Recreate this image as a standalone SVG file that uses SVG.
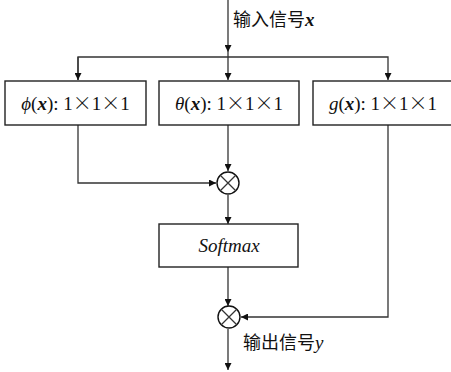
<svg xmlns="http://www.w3.org/2000/svg" width="451" height="372" viewBox="0 0 451 372">
<style>
.box{fill:#fff;stroke:#222;stroke-width:1.4}
.ln{fill:none;stroke:#333;stroke-width:1.3}
.t{font-family:'Liberation Serif','Times New Roman',serif;font-size:19px;fill:#111}
.m{font-family:'Noto Sans CJK SC',sans-serif;font-weight:300}
.c{font-family:'Noto Sans CJK SC',sans-serif;font-size:18px;fill:#111}
.v{font-family:'Liberation Serif',serif;font-style:italic;font-size:19px}
.op{fill:#fff;stroke:#111;stroke-width:1.4}
</style>
<defs>
<marker id="ah" viewBox="0 0 10 10" refX="10" refY="5" markerWidth="7" markerHeight="7" markerUnits="userSpaceOnUse" orient="auto">
<path d="M0,0 L10,5 L0,10 z" fill="#111"/>
</marker>
</defs>
<rect width="451" height="372" fill="#fff"/>
<g id="connectors">
<line class="ln" x1="228" y1="0" x2="228" y2="52" marker-end="url(#ah)"/>
<polyline class="ln" points="78,80 78,57 388,57 388,80" marker-end="url(#ah)"/>
<line class="ln" x1="78" y1="57" x2="78" y2="80" marker-end="url(#ah)"/>
<line class="ln" x1="228" y1="52" x2="228" y2="80" marker-end="url(#ah)"/>
<polyline class="ln" points="78,125 78,183 216,183" marker-end="url(#ah)"/>
<line class="ln" x1="228" y1="125" x2="228" y2="171" marker-end="url(#ah)"/>
<line class="ln" x1="228" y1="195" x2="228" y2="224" marker-end="url(#ah)"/>
<line class="ln" x1="228" y1="267" x2="228" y2="306" marker-end="url(#ah)"/>
<polyline class="ln" points="388,125 388,317 241,317" marker-end="url(#ah)"/>
<line class="ln" x1="228" y1="329" x2="228" y2="370" marker-end="url(#ah)"/>
</g>
<g id="input-label"><text class="c" x="233" y="26">输入信号<tspan class="v" font-weight="bold">x</tspan></text></g>
<g id="phi"><rect class="box" x="5" y="81" width="141" height="44"/>
<text class="t" x="75.5" y="110" text-anchor="middle"><tspan font-style="italic">ϕ</tspan>(<tspan font-style="italic" font-weight="bold">x</tspan>): 1<tspan class="m">×</tspan>1<tspan class="m">×</tspan>1</text></g>
<g id="theta"><rect class="box" x="159" y="81" width="140" height="44"/>
<text class="t" x="229" y="110" text-anchor="middle"><tspan font-style="italic">θ</tspan>(<tspan font-style="italic" font-weight="bold">x</tspan>): 1<tspan class="m">×</tspan>1<tspan class="m">×</tspan>1</text></g>
<g id="g"><rect class="box" x="313" y="81" width="145" height="44"/>
<text class="t" x="383" y="110" text-anchor="middle"><tspan font-style="italic">g</tspan>(<tspan font-style="italic" font-weight="bold">x</tspan>): 1<tspan class="m">×</tspan>1<tspan class="m">×</tspan>1</text></g>
<g id="mul1"><circle class="op" cx="228" cy="183" r="11"/>
<path class="ln" stroke="#111" d="M220.5,175.5 L235.5,190.5 M235.5,175.5 L220.5,190.5"/></g>
<g id="softmax"><rect class="box" x="159" y="224" width="139" height="43"/>
<text class="t" x="229" y="252" text-anchor="middle" font-style="italic" font-size="18">Softmax</text></g>
<g id="mul2"><circle class="op" cx="229" cy="317" r="11"/>
<path class="ln" stroke="#111" d="M221.5,309.5 L236.5,324.5 M236.5,309.5 L221.5,324.5"/></g>
<g id="output-label"><text class="c" x="243" y="349">输出信号<tspan class="v">y</tspan></text></g>
</svg>
